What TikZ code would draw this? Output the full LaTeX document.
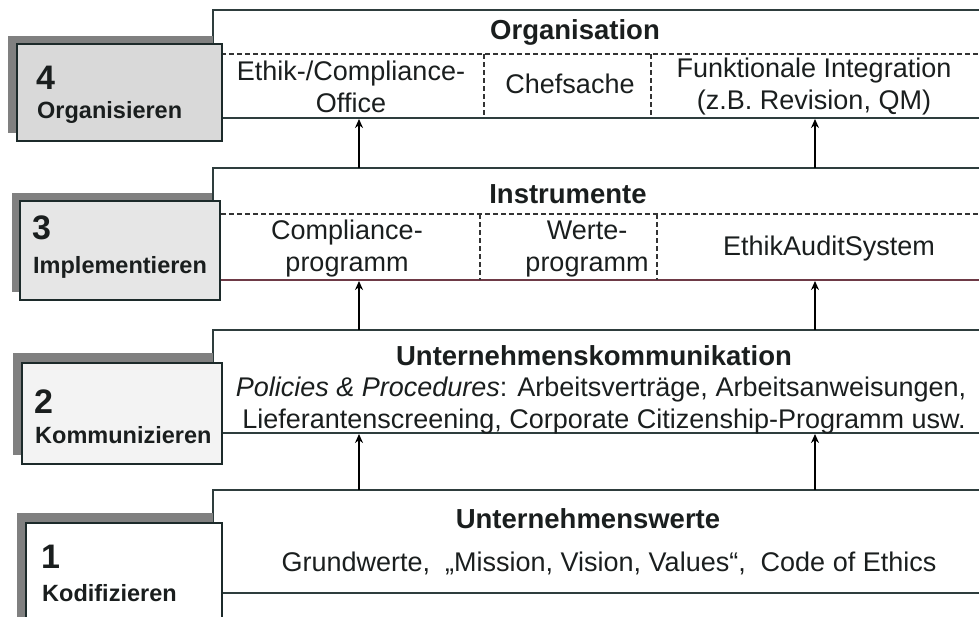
\documentclass[tikz,border=0pt]{standalone}
\usepackage{fontspec}
\setmainfont{Liberation Sans}
\usetikzlibrary{arrows.meta}
\definecolor{ink}{HTML}{1A1E1E}
\definecolor{panelc}{HTML}{2E3D3D}
\definecolor{redline}{HTML}{6E3A46}
\definecolor{dashc}{HTML}{333333}
\definecolor{boxc}{HTML}{1C2A2A}
\definecolor{shadowc}{HTML}{808080}
\definecolor{fillfour}{HTML}{D9D9D9}
\definecolor{fillthree}{HTML}{E6E6E6}
\definecolor{filltwo}{HTML}{F3F3F3}
\definecolor{fillone}{HTML}{FFFFFF}
\tikzset{
  txt/.style={font=\fontsize{27}{32}\selectfont, text=ink, align=center, inner sep=0pt},
  head/.style={font=\fontsize{27.5}{30}\selectfont\bfseries, text=ink, inner sep=0pt},
  num/.style={font=\fontsize{34}{36}\selectfont\bfseries, text=ink, anchor=west, inner sep=0pt},
  lab/.style={font=\fontsize{23.5}{26}\selectfont\bfseries, text=ink, anchor=west, inner sep=0pt},
  panel/.style={draw=panelc, line width=2pt},
  divider/.style={draw=dashc, line width=1.3pt, dash pattern=on 5pt off 3pt},
  up/.style={draw=black, line width=2.5pt, -{Stealth[length=9pt,width=8pt]}},
  lbox/.style={draw=boxc, line width=2pt},
  shade/.style={fill=shadowc, draw=none}
}
\begin{document}
\begin{tikzpicture}[x=1pt,y=-1pt]
\useasboundingbox (0,0) rectangle (979,616);

% ---------- panels ----------
\draw[panel] (979,10) -- (213,10) -- (213,118) -- (979,118);
\draw[panel] (979,168) -- (213,168) -- (213,280);
\draw[draw=redline, line width=2pt] (213,280) -- (979,280);
\draw[panel] (979,330) -- (213,330) -- (213,433) -- (979,433);
\draw[panel] (979,490) -- (213,490) -- (213,593) -- (979,593);

% dashed rows
\draw[divider] (213,54) -- (979,54);
\draw[divider] (484,54) -- (484,118);
\draw[divider] (651,54) -- (651,118);
\draw[divider] (213,214) -- (979,214);
\draw[divider] (480,214) -- (480,280);
\draw[divider] (657,214) -- (657,280);

% ---------- left boxes ----------
\fill[shade] (8,36) rectangle (213,133);
\draw[lbox, fill=fillfour] (17,44) rectangle (222,141);
\fill[shade] (12,193) rectangle (212,292);
\draw[lbox, fill=fillthree] (20,201) rectangle (220,300);
\fill[shade] (13,353) rectangle (213,455);
\draw[lbox, fill=filltwo] (22,363) rectangle (222,464);
\fill[shade] (17,513) rectangle (213,625);
\draw[lbox, fill=fillone] (26,523) rectangle (222,630);

\node[num] (n4) at (36,78) {4};
\node[lab] (l4) at (37,112) {Organisieren};
\node[num] (n3) at (32,228) {3};
\node[lab] (l3) at (33,267) {Implementieren};
\node[num] (n2) at (34,402) {2};
\node[lab] (l2) at (35,435) {Kommunizieren};
\node[num] (n1) at (41,557) {1};
\node[lab] (l1) at (42,593) {Kodifizieren};

% ---------- layer 4 texts ----------
\node[head] (h4) at (575,32) {Organisation};
\node[txt] (t4a) at (351,87) {Ethik-/Compliance-\\Office};
\node[txt] (t4b) at (570,84) {Chefsache};
\node[txt] (t4c) at (814,87) {Funktionale Integration\\(z.B. Revision, QM)};

% ---------- layer 3 texts ----------
\node[head] (h3) at (568,194) {Instrumente};
\node[txt] (t3a) at (347,249) {Compliance-\\programm};
\node[txt] (t3b) at (587,249) {Werte-\\programm};
\node[txt] (t3c) at (829,249) {EthikAuditSystem};

% ---------- layer 2 texts ----------
\node[head] (h2) at (594,356) {Unternehmenskommunikation};
\node[txt] (t2a) at (601,390) {\textit{Policies \& Procedures}: Arbeitsverträge, Arbeitsanweisungen,};
\node[txt] (t2b) at (604,422) {Lieferantenscreening, Corporate Citizenship-Programm usw.};

% ---------- layer 1 texts ----------
\node[head] (h1) at (588,519) {Unternehmenswerte};
\node[txt] (t1a) at (609,563) {Grundwerte,\ \ „Mission, Vision, Values“,\ \ Code of Ethics};

% ---------- arrows ----------
\coordinate (a1s) at (359,490); \coordinate (a1e) at (359,434);
\coordinate (b1s) at (815,490); \coordinate (b1e) at (815,434);
\coordinate (a2s) at (359,330); \coordinate (a2e) at (359,281);
\coordinate (b2s) at (815,330); \coordinate (b2e) at (815,281);
\coordinate (a3s) at (359,168); \coordinate (a3e) at (359,119);
\coordinate (b3s) at (815,168); \coordinate (b3e) at (815,119);
\draw[up] (a1s) -- (a1e);
\draw[up] (b1s) -- (b1e);
\draw[up] (a2s) -- (a2e);
\draw[up] (b2s) -- (b2e);
\draw[up] (a3s) -- (a3e);
\draw[up] (b3s) -- (b3e);
\end{tikzpicture}
\end{document}
